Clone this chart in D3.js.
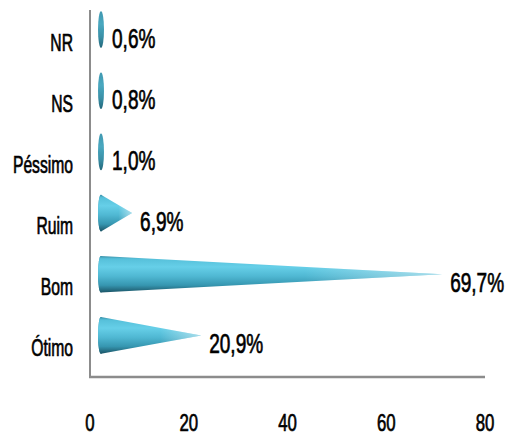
<!DOCTYPE html>
<html><head><meta charset="utf-8">
<script src="https://cdn.jsdelivr.net/npm/d3@7"></script>
<style>body{margin:0;background:#fff} svg{display:block}</style>
</head><body>
<script>
const categories = ["NR", "NS", "Péssimo", "Ruim", "Bom", "Ótimo"];
const values = [0.6, 0.8, 1.0, 6.9, 69.7, 20.9];
const valueLabels = ["0,6%", "0,8%", "1,0%", "6,9%", "69,7%", "20,9%"];
const tickValues = [0, 20, 40, 60, 80];

const W = 509, H = 437;
const FONT = "'Liberation Sans', Arial, sans-serif";
const svg = d3.select("body").append("svg").attr("width", W).attr("height", H);

const x = d3.scaleLinear().domain([0, 80]).range([90, 485]);
const y = d3.scaleBand().domain(categories).range([10, 377]);

const defs = svg.append("defs");
const cg = defs.append("linearGradient").attr("id", "coneGrad").attr("x1", 0).attr("y1", 0).attr("x2", 0).attr("y2", 1);
[[0, "#3a90a8"], [0.08, "#56c0da"], [0.3, "#66cfe8"], [0.55, "#50b8d3"], [0.8, "#3696b0"], [1, "#1b5466"]]
  .forEach(s => cg.append("stop").attr("offset", s[0]).attr("stop-color", s[1]));
const bg = defs.append("linearGradient").attr("id", "baseGrad").attr("x1", 0).attr("y1", 0).attr("x2", 0).attr("y2", 1);
[[0, "#3f98b0"], [0.35, "#4aa8c0"], [0.7, "#3a90a7"], [1, "#22677a"]]
  .forEach(s => bg.append("stop").attr("offset", s[0]).attr("stop-color", s[1]));
const tg = defs.append("linearGradient").attr("id", "tipGrad").attr("x1", 0).attr("y1", 0).attr("x2", 1).attr("y2", 0);
[[0, "#ffffff", 0], [0.6, "#ffffff", 0], [1, "#ffffff", 0.5]]
  .forEach(s => tg.append("stop").attr("offset", s[0]).attr("stop-color", s[1]).attr("stop-opacity", s[2]));

// axes lines
const axisColor = "#8c8c8c";
svg.append("line").attr("x1", x(0)).attr("x2", x(0)).attr("y1", 10).attr("y2", 378)
  .attr("stroke", axisColor).attr("stroke-width", 2);
svg.append("line").attr("x1", x(0) - 1).attr("x2", x(80)).attr("y1", 377).attr("y2", 377)
  .attr("stroke", axisColor).attr("stroke-width", 2.5);

function styleText(sel, size) {
  sel.attr("font-family", FONT).attr("font-size", size).attr("fill", "#000")
    .attr("stroke", "#000").attr("stroke-width", 0.7).attr("paint-order", "stroke");
}

// tick labels
svg.selectAll(".tick").data(tickValues).enter().append("text")
  .attr("transform", d => `translate(${x(d)},431) scale(0.7,1)`)
  .attr("text-anchor", "middle")
  .call(styleText, 24)
  .text(d => d);

// category labels
svg.selectAll(".cat").data(categories).enter().append("text")
  .attr("transform", d => `translate(73,${y(d) + y.bandwidth() / 2 + 10}) scale(0.64,1)`)
  .attr("text-anchor", "end")
  .call(styleText, 24.5)
  .text(d => d);

// cones
const depth = 8, rx = 3, ry = y.bandwidth() * 0.3, lift = 11;
const data = categories.map((c, i) => ({ c, v: values[i], lab: valueLabels[i] }));
const g = svg.append("g");
data.forEach(d => {
  const cy = y(d.c) + y.bandwidth() / 2 - lift;
  const cx = x(0) + depth + rx;
  const tip = x(d.v) + depth;
  g.append("ellipse").attr("cx", cx).attr("cy", cy).attr("rx", rx).attr("ry", ry).attr("fill", "url(#baseGrad)");
  if (tip > cx + rx) {
    const p = `M${cx},${cy - ry} A${rx},${ry} 0 0 0 ${cx},${cy + ry} L${tip},${cy} Z`;
    g.append("path").attr("d", p).attr("fill", "url(#coneGrad)");
    g.append("path").attr("d", p).attr("fill", "url(#tipGrad)");
  }
  const tx = Math.max(tip, cx + rx) + 8;
  g.append("text")
    .attr("transform", `translate(${tx},${y(d.c) + y.bandwidth() / 2 + 7}) scale(0.68,1)`)
    .call(styleText, 28)
    .text(d.lab);
});
</script>
</body></html>
